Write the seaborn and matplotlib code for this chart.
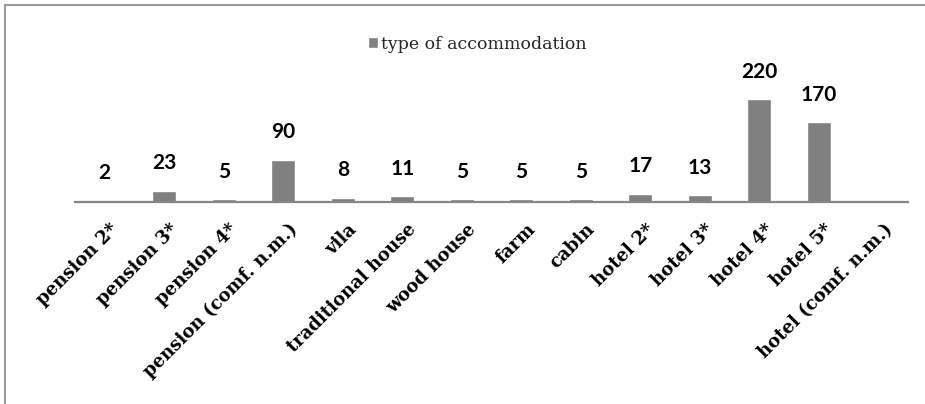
import numpy as np
import pandas as pd
import matplotlib
matplotlib.use("Agg")
import matplotlib.pyplot as plt
import matplotlib.transforms as mtransforms
import seaborn as sns

# data
categories = ["pension 2*", "pension 3*", "pension 4*", "pension (comf. n.m.)", "vila",
              "traditional house", "wood house", "farm", "cabin", "hotel 2*", "hotel 3*",
              "hotel 4*", "hotel 5*", "hotel (comf. n.m.)"]
counts = [2, 23, 5, 90, 8, 11, 5, 5, 5, 17, 13, 220, 170, np.nan]
series_name = "type of accommodation"

df = pd.DataFrame({"category": categories, "count": counts})

sns.set_theme(style="white")
fig = plt.figure(figsize=(9.25, 4.04), dpi=100)
ax = fig.add_axes([0.0811, 0.5012, 0.9005, 0.2884])

sns.barplot(data=df, x="category", y="count", color="#808080", width=0.4,
            saturation=1, label=series_name, ax=ax)
handles, labels = ax.get_legend_handles_labels()
if ax.get_legend() is not None:
    ax.get_legend().remove()

ax.set_ylim(0, 250)
ax.set_xlim(-0.5, len(categories) - 0.5)
ax.set_xlabel("")
ax.set_ylabel("")
ax.set_yticks([])
for side in ["top", "right", "left"]:
    ax.spines[side].set_visible(False)
ax.spines["bottom"].set_color("#868686")
ax.spines["bottom"].set_linewidth(1.6)

# value labels above the bars
for i, v in enumerate(counts):
    if np.isnan(v):
        continue
    ax.annotate(f"{int(v)}", (i, v), xytext=(0, 12.5), textcoords="offset points",
                ha="center", va="bottom", fontsize=15, fontweight="bold",
                family="Lato", color="black")

ax.tick_params(axis="x", length=0, pad=13.5)
ax.set_xticks(range(len(categories)))
ax.set_xticklabels(categories, rotation=45, ha="right", va="top",
                   rotation_mode="anchor", fontsize=13, fontweight="bold",
                   family="DejaVu Serif", color="black")
shift = mtransforms.ScaledTranslation(5 / 100, 0, fig.dpi_scale_trans)
for lab in ax.get_xticklabels():
    lab.set_transform(lab.get_transform() + shift)

fig.legend(handles, labels, loc="center", bbox_to_anchor=(0.516, 0.891), frameon=False,
           handlelength=0.6, handleheight=0.6, handletextpad=0.15,
           prop={"family": "DejaVu Serif", "size": 12.5})

# thin frame around the chart area (only top and left visible in the reference)
fig.add_artist(plt.Line2D([4.5 / 925, 1], [1 - 5 / 404, 1 - 5 / 404],
                          transform=fig.transFigure, color="#9a9a9a", lw=1.5))
fig.add_artist(plt.Line2D([4.5 / 925, 4.5 / 925], [0, 1 - 5 / 404],
                          transform=fig.transFigure, color="#9a9a9a", lw=1.5))

fig.savefig("out.png", dpi=100, facecolor="white")
